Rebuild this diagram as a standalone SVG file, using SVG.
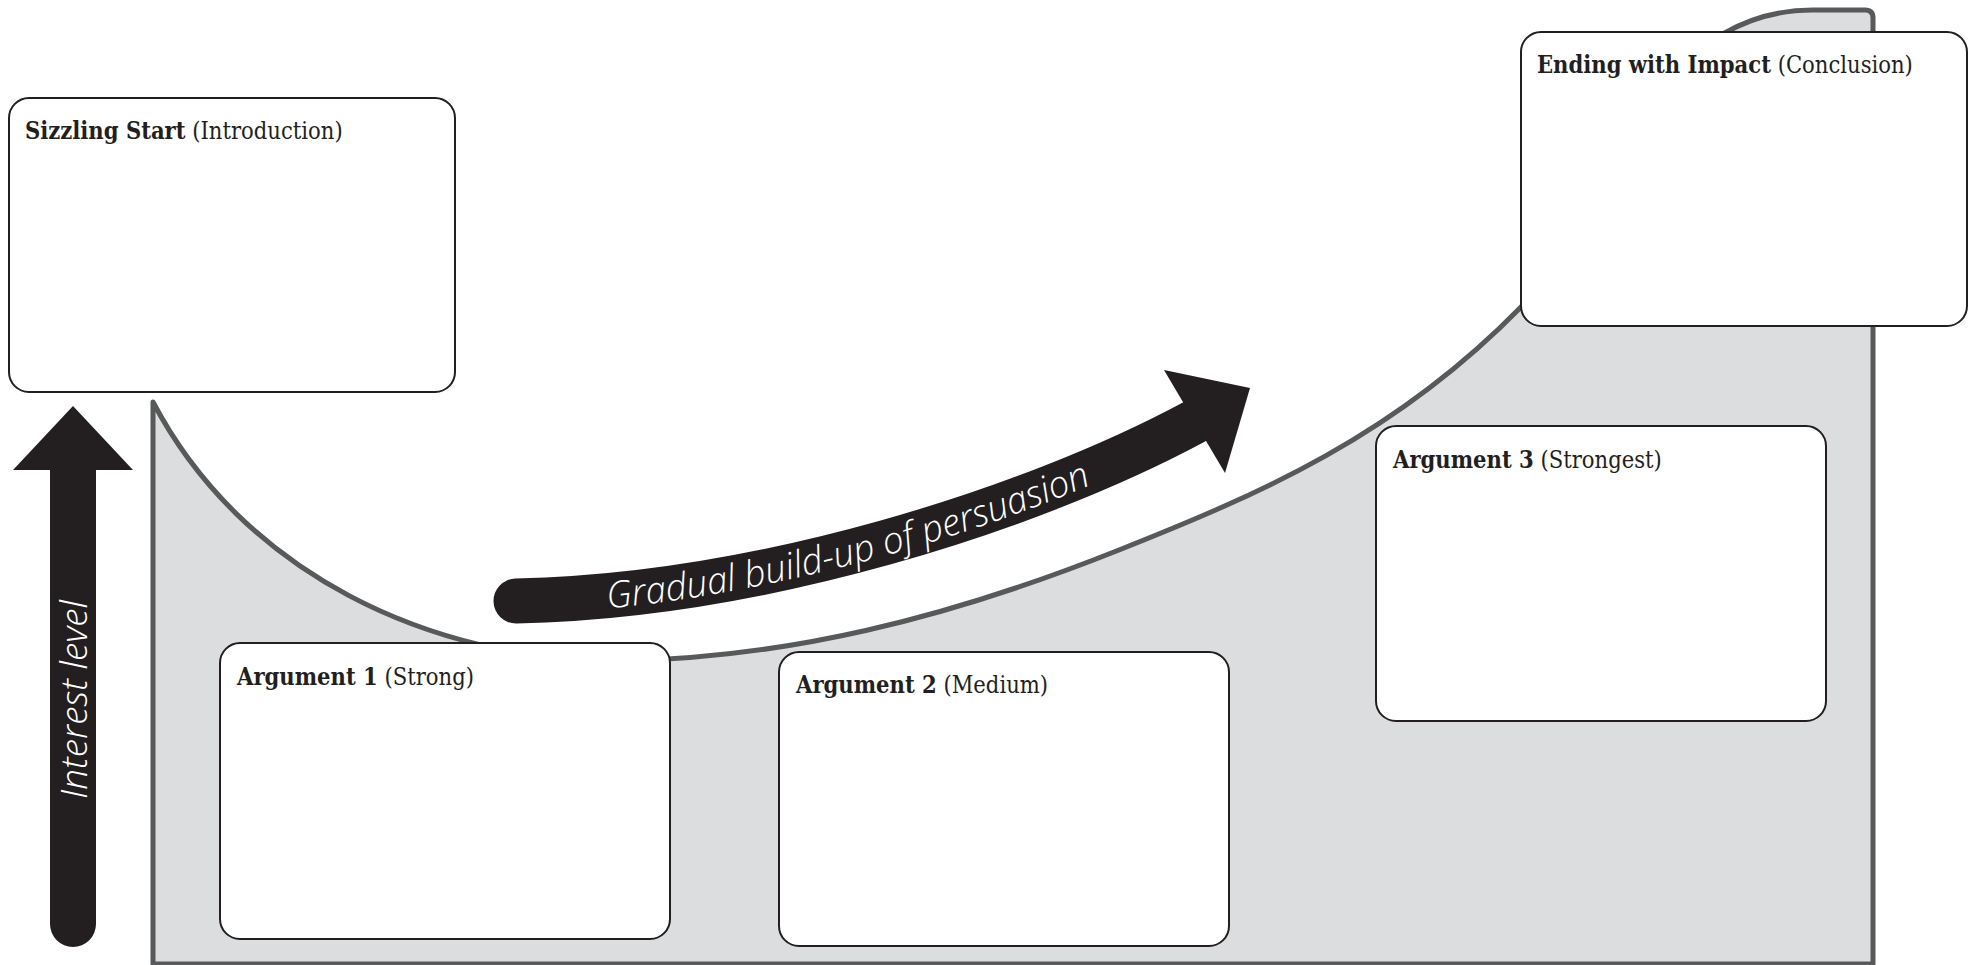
<svg xmlns="http://www.w3.org/2000/svg" width="1970" height="965" viewBox="0 0 1970 965">
<style>
.box{fill:#ffffff;stroke:#231f20;stroke-width:2}
.lbl{font-family:'Roboto Slab','DejaVu Serif Condensed','DejaVu Serif',serif;font-size:23.5px;fill:#231f20}
.b{font-weight:700}
.area{fill:#dcdddf;stroke:#58595b;stroke-width:5;stroke-linejoin:round}
.arr{fill:#231f20}
.shaft{fill:none;stroke:#231f20;stroke-width:45;stroke-linecap:round}
.wt{font-family:'Open Sans',Lato,sans-serif;font-style:italic;font-weight:300;fill:#ffffff;font-size:37px}
</style>
<defs>
<path id="gbase" d="M516,614 C760,609 1036,521.5 1200,433.5"/>
</defs>
<g id="interest-area">
<path class="area" d="M153,964 L153,402 C243,573 430,661 620,661 C786,658 946,619 1119,550 C1260,494 1395,436 1521,307 C1600,228 1640,10 1813,10 L1865,10 Q1873,10 1873,18 L1873,964 Z"/>
</g>
<g id="connectors">
<g id="interest-arrow">
<path class="arr" d="M50,470 L50,924 A23,23 0 0 0 96,924 L96,470 L133,470 L73,406 L13,470 Z"/>
<text class="wt" transform="translate(87,799) rotate(-90)">Interest level</text>
</g>
<g id="persuasion-arrow">
<path class="shaft" d="M516,601 C760,596 1030,510 1194,422"/>
<polygon class="arr" points="1164,370 1250,388 1225,473"/>
<text class="wt"><textPath href="#gbase" startOffset="92">Gradual build-up of persuasion</textPath></text>
</g>
</g>
<g id="node-intro">
<rect class="box" x="9" y="98" width="446" height="294" rx="20"/>
<text class="lbl" x="25" y="139"><tspan class="b">Sizzling Start</tspan> (Introduction)</text>
</g>
<g id="node-arg1">
<rect class="box" x="220" y="643" width="450" height="296" rx="20"/>
<text class="lbl" x="237" y="685"><tspan class="b">Argument 1</tspan> (Strong)</text>
</g>
<g id="node-arg2">
<rect class="box" x="779" y="652" width="450" height="294" rx="20"/>
<text class="lbl" x="796" y="693"><tspan class="b">Argument 2</tspan> (Medium)</text>
</g>
<g id="node-arg3">
<rect class="box" x="1376" y="426" width="450" height="295" rx="20"/>
<text class="lbl" x="1393" y="468"><tspan class="b">Argument 3</tspan> (Strongest)</text>
</g>
<g id="node-conclusion">
<rect class="box" x="1521" y="32" width="446" height="294" rx="20"/>
<text class="lbl" x="1537" y="73"><tspan class="b">Ending with Impact</tspan> (Conclusion)</text>
</g>
</svg>
